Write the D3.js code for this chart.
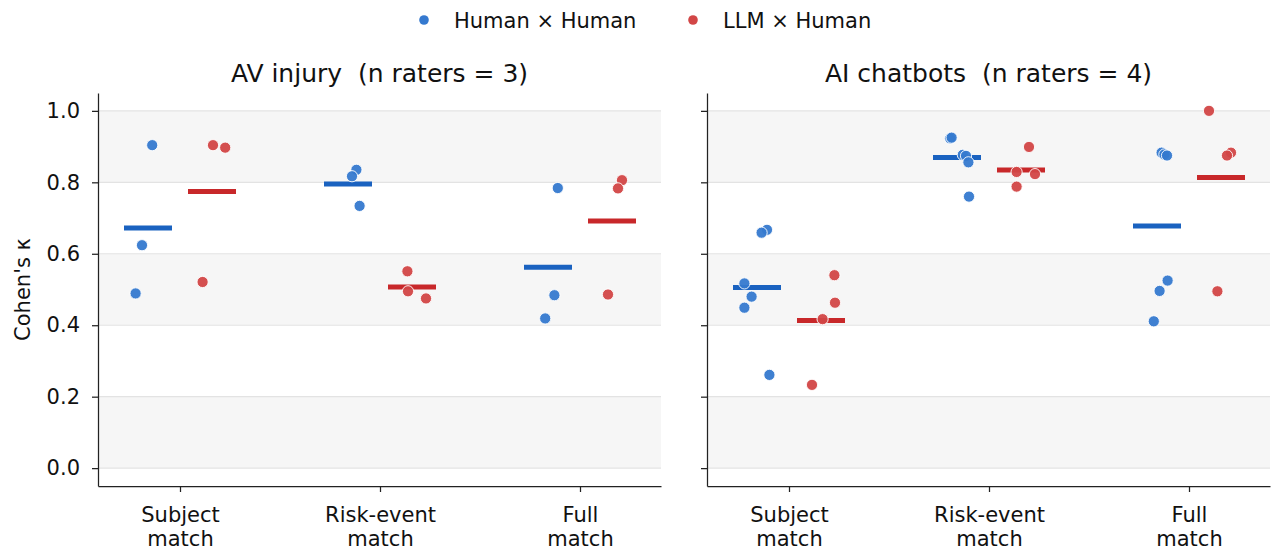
<!DOCTYPE html>
<html>
<head>
<meta charset="utf-8">
<script src="https://cdn.jsdelivr.net/npm/d3@7"></script>
<style>
  body { margin: 0; background: #fff; }
  svg text { font-family: "DejaVu Sans", sans-serif; white-space: pre; }
  .tick text { font-size: 21px; fill: #111; }
  .tick line { stroke: #222; stroke-width: 1.25; }
  .domain { stroke: #222; stroke-width: 1.25; }
</style>
</head>
<body>
<svg width="1274" height="551"></svg>
<script>
// chart values
const panelTitles = ["AV injury  (n raters = 3)", "AI chatbots  (n raters = 4)"]
const categories = ["Subject match", "Risk-event match", "Full match"]
const seriesNames = ["Human \u00d7 Human", "LLM \u00d7 Human"]
const yTicks = [0, 0.2, 0.4, 0.6, 0.8, 1.0]

// pairwise kappas, one inner array per category
const avHumanHuman = [[0.904, 0.624, 0.489], [0.835, 0.817, 0.734], [0.784, 0.484, 0.419]]
const avLlmHuman = [[0.904, 0.897, 0.521], [0.551, 0.495, 0.475], [0.806, 0.783, 0.486]]
const chatHumanHuman = [[0.667, 0.659, 0.517, 0.480, 0.449, 0.261],
  [0.923, 0.925, 0.877, 0.874, 0.856, 0.760],
  [0.883, 0.878, 0.875, 0.525, 0.496, 0.411]]
const chatLlmHuman = [[0.540, 0.463, 0.417, 0.233], [0.899, 0.829, 0.823, 0.788], [1.0, 0.883, 0.875, 0.495]]

// strip jitter (category units)
const avHumanHumanJit = [[-0.139, -0.19, -0.222], [-0.118, -0.14, -0.102], [-0.111, -0.128, -0.174]]
const avLlmHumanJit = [[0.165, 0.226, 0.113], [0.137, 0.14, 0.23], [0.21, 0.19, 0.14]]
const chatHumanHumanJit = [[-0.11, -0.137, -0.223, -0.187, -0.223, -0.098],
  [-0.194, -0.187, -0.131, -0.115, -0.103, -0.1],
  [-0.137, -0.123, -0.11, -0.107, -0.147, -0.176]]
const chatLlmHumanJit = [[0.227, 0.23, 0.168, 0.115], [0.2, 0.138, 0.23, 0.138], [0.1, 0.21, 0.19, 0.142]]

const panelData = [
  [{ vals: avHumanHuman, jit: avHumanHumanJit }, { vals: avLlmHuman, jit: avLlmHumanJit }],
  [{ vals: chatHumanHuman, jit: chatHumanHumanJit }, { vals: chatLlmHuman, jit: chatLlmHumanJit }]
]

const pointColors = ["#3579cf", "#d24646"]
const meanColors = ["#1a62c0", "#c8282a"]
const meanOffset = [-0.16, 0.16]

const svg = d3.select("svg")

const panelLeft = [98, 707]
const panelWidth = 563
const plotTop = 93, plotBottom = 486

const yScale = d3.scaleLinear()
  .domain([-0.05, 1.05])
  .range([plotBottom, plotTop])

panelTitles.forEach((title, p) => {
  const g = svg.append("g")
    .attr("transform", `translate(${panelLeft[p]},0)`)

  const xScale = d3.scaleLinear()
    .domain([-0.41, 2.405])
    .range([0, panelWidth])

  // alternating bands
  g.append("g").selectAll("rect")
    .data([0, 0.4, 0.8])
    .enter().append("rect")
    .attr("x", 0)
    .attr("width", panelWidth)
    .attr("y", d => yScale(d + 0.2))
    .attr("height", d => yScale(d) - yScale(d + 0.2))
    .attr("fill", "#f6f6f6")

  g.append("g").selectAll("line")
    .data(yTicks)
    .enter().append("line")
    .attr("x1", 0)
    .attr("x2", panelWidth)
    .attr("y1", d => yScale(d))
    .attr("y2", d => yScale(d))
    .attr("stroke", "#e3e3e3")
    .attr("stroke-width", 1.2)

  const yAxis = d3.axisLeft(yScale)
    .tickValues(yTicks)
    .tickSize(6)
    .tickSizeOuter(0)
    .tickPadding(12)
    .tickFormat(p === 0 ? d3.format(".1f") : () => "")

  g.append("g").call(yAxis)

  const xAxis = d3.axisBottom(xScale)
    .tickValues([0, 1, 2])
    .tickSize(6)
    .tickSizeOuter(0)
    .tickFormat("")

  const xAxisG = g.append("g")
    .attr("transform", `translate(0,${plotBottom})`)
    .call(xAxis)

  xAxisG.selectAll(".tick").each(function(d) {
    const words = categories[d].split(" ")
    const t = d3.select(this).append("text")
      .attr("fill", "#111")
      .attr("text-anchor", "middle")
    words.forEach((w, i) => {
      t.append("tspan")
        .attr("x", 0)
        .attr("y", 36 + i * 24)
        .text(w)
    })
  })

  g.append("text")
    .attr("x", panelWidth / 2)
    .attr("y", 82)
    .attr("text-anchor", "middle")
    .attr("font-size", 25)
    .attr("fill", "#111")
    .text(title)

  panelData[p].forEach((s, k) => {
    // mean bars
    g.append("g").selectAll("line")
      .data(s.vals)
      .enter().append("line")
      .attr("x1", (d, c) => xScale(c + meanOffset[k] - 0.12))
      .attr("x2", (d, c) => xScale(c + meanOffset[k] + 0.12))
      .attr("y1", d => yScale(d3.mean(d)))
      .attr("y2", d => yScale(d3.mean(d)))
      .attr("stroke", meanColors[k])
      .attr("stroke-width", 5)
  })

  panelData[p].forEach((s, k) => {
    const pts = []
    s.vals.forEach((arr, c) => arr.forEach((v, i) => pts.push({ c: c, v: v, j: s.jit[c][i] })))
    g.append("g").selectAll("circle")
      .data(pts)
      .enter().append("circle")
      .attr("cx", d => xScale(d.c + d.j))
      .attr("cy", d => yScale(d.v))
      .attr("r", 5.6)
      .attr("fill", pointColors[k])
      .attr("fill-opacity", 0.95)
      .attr("stroke", "#fff")
      .attr("stroke-width", 0.9)
  })
})

svg.append("text")
  .attr("transform", `translate(30,${(yScale(1) + yScale(0)) / 2}) rotate(-90)`)
  .attr("text-anchor", "middle")
  .attr("font-size", 21)
  .attr("fill", "#111")
  .text("Cohen's \u03ba")

// legend
const legendX = [424, 693]
const legendG = svg.append("g")
legendG.selectAll("circle")
  .data(seriesNames)
  .enter().append("circle")
  .attr("cx", (d, i) => legendX[i])
  .attr("cy", 20)
  .attr("r", 4.8)
  .attr("fill", (d, i) => pointColors[i])
legendG.selectAll("text")
  .data(seriesNames)
  .enter().append("text")
  .attr("x", (d, i) => legendX[i] + 30)
  .attr("y", 28)
  .attr("font-size", 21)
  .attr("fill", "#111")
  .text(d => d)
</script>
</body>
</html>
